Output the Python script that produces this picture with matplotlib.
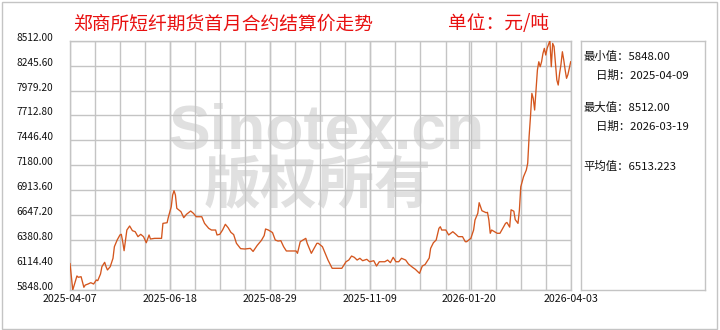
import matplotlib
matplotlib.use('Agg')
import matplotlib.pyplot as plt
import matplotlib.dates as mdates
from matplotlib.patches import Rectangle
from matplotlib.transforms import ScaledTranslation
import numpy as np
import pandas as pd

# ---------------- data ----------------
title = '郑商所短纤期货首月合约结算价走势'
unit_text = '单位：元/吨'
watermark_en = 'Sinotex.cn'
watermark_cn = '版权所有'

dates = [
    '2025-04-07', '2025-04-08', '2025-04-09', '2025-04-12', '2025-04-13', '2025-04-15', '2025-04-17', '2025-04-18',
    '2025-04-20', '2025-04-22', '2025-04-24', '2025-04-26', '2025-04-27', '2025-04-29', '2025-04-30', '2025-05-02',
    '2025-05-03', '2025-05-04', '2025-05-06', '2025-05-08', '2025-05-09', '2025-05-11', '2025-05-13', '2025-05-14',
    '2025-05-15', '2025-05-16', '2025-05-17', '2025-05-18', '2025-05-20', '2025-05-22', '2025-05-24', '2025-05-26',
    '2025-05-28', '2025-05-30', '2025-06-01', '2025-06-03', '2025-06-04', '2025-06-07', '2025-06-12', '2025-06-13',
    '2025-06-16', '2025-06-17', '2025-06-19', '2025-06-20', '2025-06-21', '2025-06-22', '2025-06-23', '2025-06-26',
    '2025-06-28', '2025-06-30', '2025-07-03', '2025-07-05', '2025-07-07', '2025-07-11', '2025-07-13', '2025-07-16',
    '2025-07-18', '2025-07-21', '2025-07-22', '2025-07-24', '2025-07-26', '2025-07-28', '2025-07-30', '2025-08-01',
    '2025-08-03', '2025-08-05', '2025-08-08', '2025-08-11', '2025-08-15', '2025-08-17', '2025-08-20', '2025-08-23',
    '2025-08-25', '2025-08-26', '2025-08-28', '2025-08-31', '2025-09-02', '2025-09-04', '2025-09-06', '2025-09-08',
    '2025-09-10', '2025-09-14', '2025-09-17', '2025-09-18', '2025-09-20', '2025-09-22', '2025-09-24', '2025-09-25',
    '2025-09-27', '2025-09-28', '2025-09-30', '2025-10-02', '2025-10-03', '2025-10-06', '2025-10-08', '2025-10-10',
    '2025-10-13', '2025-10-17', '2025-10-20', '2025-10-23', '2025-10-25', '2025-10-27', '2025-10-29', '2025-10-31',
    '2025-11-02', '2025-11-04', '2025-11-07', '2025-11-09', '2025-11-12', '2025-11-14', '2025-11-16', '2025-11-20',
    '2025-11-22', '2025-11-24', '2025-11-26', '2025-11-28', '2025-11-30', '2025-12-02', '2025-12-05', '2025-12-07',
    '2025-12-10', '2025-12-12', '2025-12-15', '2025-12-17', '2025-12-19', '2025-12-22', '2025-12-23', '2025-12-25',
    '2025-12-27', '2025-12-29', '2025-12-30', '2025-12-31', '2026-01-03', '2026-01-05', '2026-01-08', '2026-01-10',
    '2026-01-12', '2026-01-15', '2026-01-17', '2026-01-18', '2026-01-21', '2026-01-23', '2026-01-24', '2026-01-26',
    '2026-01-27', '2026-01-29', '2026-02-01', '2026-02-02', '2026-02-03', '2026-02-04', '2026-02-05', '2026-02-07',
    '2026-02-09', '2026-02-11', '2026-02-13', '2026-02-15', '2026-02-16', '2026-02-18', '2026-02-19', '2026-02-21',
    '2026-02-22', '2026-02-24', '2026-02-25', '2026-02-26', '2026-02-28', '2026-03-02', '2026-03-03', '2026-03-04',
    '2026-03-05', '2026-03-06', '2026-03-07', '2026-03-08', '2026-03-09', '2026-03-10', '2026-03-11', '2026-03-12',
    '2026-03-13', '2026-03-14', '2026-03-15', '2026-03-16', '2026-03-17', '2026-03-18', '2026-03-19', '2026-03-20',
    '2026-03-21', '2026-03-22', '2026-03-23', '2026-03-24', '2026-03-25', '2026-03-26', '2026-03-27', '2026-03-28',
    '2026-03-29', '2026-03-30', '2026-03-31', '2026-04-01', '2026-04-02', '2026-04-03',
]
prices = [
    6130, 5990, 5848, 5998, 5984, 5990, 5877, 5901,
    5912, 5926, 5912, 5955, 5948, 6019, 6097, 6144,
    6097, 6062, 6097, 6187, 6311, 6382, 6436, 6443,
    6364, 6268, 6382, 6489, 6532, 6482, 6471, 6418,
    6443, 6418, 6353, 6436, 6393, 6400, 6400, 6560,
    6567, 6631, 6738, 6863, 6909, 6863, 6721, 6685,
    6621, 6657, 6692, 6667, 6631, 6631, 6560, 6507,
    6489, 6489, 6436, 6443, 6489, 6550, 6514, 6464,
    6440, 6347, 6290, 6286, 6293, 6260, 6325, 6378,
    6430, 6500, 6489, 6462, 6382, 6371, 6375, 6311,
    6265, 6265, 6265, 6240, 6364, 6382, 6400, 6347,
    6275, 6240, 6293, 6347, 6347, 6311, 6240, 6168,
    6080, 6080, 6080, 6150, 6168, 6211, 6197, 6168,
    6187, 6161, 6176, 6150, 6161, 6104, 6150, 6150,
    6168, 6140, 6197, 6150, 6150, 6187, 6168, 6126,
    6090, 6069, 6026, 6104, 6120, 6190, 6293, 6353,
    6382, 6507, 6524, 6489, 6489, 6436, 6471, 6446,
    6418, 6418, 6364, 6364, 6400, 6489, 6596, 6667,
    6781, 6695, 6674, 6678, 6596, 6454, 6489, 6471,
    6454, 6454, 6507, 6560, 6570, 6520, 6705, 6690,
    6600, 6560, 6700, 6950, 7059, 7130, 7202, 7486,
    7700, 7949, 7895, 7771, 7985, 8199, 8287, 8234,
    8287, 8376, 8430, 8359, 8430, 8470, 8512, 8234,
    8483, 8450, 8269, 8092, 8038, 8163, 8260, 8394,
    8305, 8199, 8110, 8150, 8220, 8287,
]
y_tick_labels = ['5848.00', '6114.40', '6380.80', '6647.20', '6913.60', '7180.00',
                 '7446.40', '7712.80', '7979.20', '8245.60', '8512.00']
x_tick_labels = ['2025-04-07', '2025-06-18', '2025-08-29', '2025-11-09', '2026-01-20', '2026-04-03']
avg_price = 6513.223

# ---------------- style ----------------
plt.rcParams['font.family'] = ['Noto Sans CJK SC', 'DejaVu Sans']
GRID = '#c4c4c4'
LINE = '#d4561e'
RED = '#e81010'
WM = '#e0e0e0'

W, H = 720, 330
fig = plt.figure(figsize=(W / 100, H / 100), dpi=100)
fig.patch.set_facecolor('white')


def box(l, t, r, b):
    return [l / W, 1 - b / H, (r - l) / W, (b - t) / H]


# outer frame
fig.patches.append(Rectangle((1.5 / W, 1.5 / H), (716.5 - 1.5) / W, (328.5 - 1.5) / H,
                             transform=fig.transFigure, fill=False, edgecolor=GRID, lw=1.0))

ax = fig.add_axes(box(70, 40.7, 570.7, 290))
d = pd.to_datetime(dates)
ax.plot(d, prices, color=LINE, lw=0.95, zorder=3)

x0 = mdates.date2num(pd.Timestamp(x_tick_labels[0]))
x1 = mdates.date2num(pd.Timestamp(x_tick_labels[-1]))
ax.set_xlim(x0, x1)
yvals = [float(v) for v in y_tick_labels]
ax.set_ylim(yvals[0], yvals[-1])

ax.set_yticks(yvals)
ax.set_yticklabels(y_tick_labels)
ax.set_xticks([mdates.date2num(pd.Timestamp(s)) for s in x_tick_labels])
ax.set_xticklabels(x_tick_labels)
ax.set_xticks(np.linspace(x0, x1, 21), minor=True)
ax.grid(True, which='both', axis='x', color=GRID, lw=1.0, zorder=1)
ax.grid(True, which='major', axis='y', color=GRID, lw=1.0, zorder=1)
ax.set_axisbelow(True)
ax.tick_params(axis='both', which='both', length=0)
ax.tick_params(axis='y', pad=12, labelsize=7.3, labelcolor='#111111')
ax.tick_params(axis='x', pad=3, labelsize=7.7, labelcolor='#111111')
for sp in ax.spines.values():
    sp.set_color(GRID)
    sp.set_linewidth(1.0)

off = ScaledTranslation(0, 4 / 100, fig.dpi_scale_trans)
for lbl in ax.get_yticklabels():
    lbl.set_transform(lbl.get_transform() + off)

# watermark
fig.text(326 / W, 1 - 132 / H, watermark_en, fontsize=45, fontweight='bold', color=WM,
         ha='center', va='center', family='Liberation Sans', zorder=0)
fig.text(318 / W, 1 - 186 / H, watermark_cn, fontsize=41, fontweight='bold', color=WM,
         ha='center', va='center', zorder=0)
ax.set_zorder(2)
ax.patch.set_alpha(0)

# titles
fig.text(73 / W, 1 - 24 / H, title, fontsize=13.5, color=RED, ha='left', va='center')
fig.text(448 / W, 1 - 24 / H, unit_text, fontsize=13.5, color=RED, ha='left', va='center')

# right info panel
pax = fig.add_axes(box(580.7, 40.7, 705, 290))
pax.set_xticks([])
pax.set_yticks([])
for sp in pax.spines.values():
    sp.set_color(GRID)
    sp.set_linewidth(1.0)
pax.set_xlim(580.7, 705)
pax.set_ylim(290, 40.7)

imin = int(np.argmin(prices))
imax = int(np.argmax(prices))
info = [
    (583, 56, f'最小值：{prices[imin]:.2f}'),
    (596, 75, f'日期：{dates[imin]}'),
    (583, 106.7, f'最大值：{prices[imax]:.2f}'),
    (596, 126.7, f'日期：{dates[imax]}'),
    (583, 166, f'平均值：{avg_price:.3f}'),
]
for x, y, s in info:
    pax.text(x, y, s, fontsize=8.2, color='#111111', ha='left', va='center')

fig.savefig('out.png', dpi=100, facecolor='white')
